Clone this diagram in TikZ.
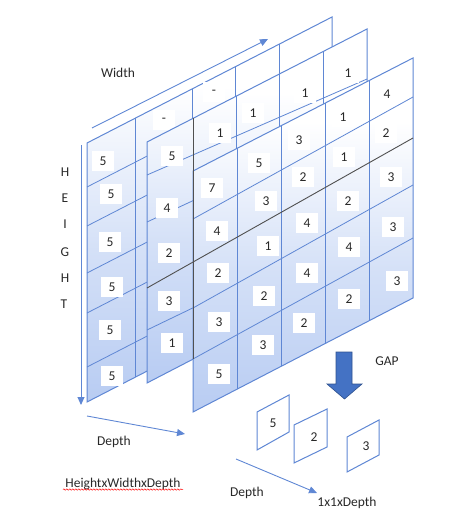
\documentclass[tikz,border=0pt]{standalone}
\usepackage{fontspec}
\setmainfont{Carlito}
\usetikzlibrary{arrows.meta,decorations.pathmorphing}
\definecolor{lineblue}{RGB}{95,135,212}
\definecolor{shblue}{RGB}{184,204,242}
\definecolor{gapblue}{RGB}{68,114,196}
\definecolor{gapedge}{RGB}{47,82,143}
\definecolor{darkline}{RGB}{80,80,80}
\definecolor{txt}{RGB}{40,40,40}
\pgfdeclareverticalshading{sheetshade}{100bp}{color(0bp)=(shblue); color(25bp)=(shblue); color(45bp)=(shblue!60!white); color(66bp)=(white); color(100bp)=(white)}
\begin{document}
\begin{tikzpicture}[x=1pt,y=-1pt,
  gridln/.style={draw=lineblue, line width=0.8pt},
  edgeln/.style={draw=lineblue, line width=1pt},
  numbox/.style={fill=white, inner sep=0pt, minimum width=22pt, minimum height=20pt, font=\fontsize{13.5}{16}\selectfont, text=txt},
  lbl/.style={font=\fontsize{13.5}{16}\selectfont, text=txt},
  axarrow/.style={draw=lineblue, line width=0.9pt, -{Triangle[length=8pt,width=7pt]}},
  darkl/.style={draw=darkline, line width=0.9pt},
  smallbox/.style={draw=lineblue, line width=1pt, fill=white}]
\useasboundingbox (0,0) rectangle (464,511);

% ---------- slice 1 (back) ----------
\shade[shading=sheetshade] (87,143) -- (332,17) -- (332,276) -- (87,402) -- cycle;
\draw[gridln] (87,187) -- (332,61);
\draw[gridln] (87,226) -- (332,100);
\draw[gridln] (87,273) -- (332,147);
\draw[gridln] (87,313) -- (332,187);
\draw[gridln] (87,367) -- (332,241);
\draw[gridln] (135,118.3) -- (135,377.3);
\draw[gridln] (192,89) -- (192,348);
\draw[gridln] (235,66.9) -- (235,325.9);
\draw[gridln] (279,44.3) -- (279,303.3);
\draw[edgeln] (87,143) -- (332,17) -- (332,276) -- (87,402) -- cycle;
\node[numbox] (a1) at (103,161) {5};
\node[numbox] (a2) at (111,194) {5};
\node[numbox] (a3) at (110,242) {5};
\node[numbox] (a4) at (112,287) {5};
\node[numbox] (a5) at (110,330) {5};
\node[numbox] (a6) at (112,376) {5};
\node[numbox] (a7) at (164,120) {-};
\node[numbox] (a8) at (214,92) {-};

% ---------- slice 2 (middle) ----------
\shade[shading=sheetshade] (147,142) -- (367,29) -- (367,269) -- (147,383) -- cycle;
\draw[gridln] (147,175) -- (367,79);
\draw[gridln] (147,222) -- (367,120);
\draw[gridln] (147,330) -- (367,224);
\draw[gridln] (236,96.3) -- (236,336.9);
\draw[gridln] (279,74.2) -- (279,314.6);
\draw[gridln] (323,51.6) -- (323,291.8);
\draw[edgeln] (147,142) -- (367,29) -- (367,269) -- (147,383) -- cycle;
\node[numbox] (b1) at (172,156) {5};
\node[numbox] (b2) at (220,133) {1};
\node[numbox] (b3) at (253,113) {1};
\node[numbox] (b4) at (305,93) {1};
\node[numbox] (b5) at (348,73) {1};
\node[numbox] (b6) at (167,208) {4};
\node[numbox] (b7) at (169,253) {2};
\node[numbox] (b8) at (169,301) {3};
\node[numbox] (b9) at (172,343) {1};

% ---------- slice 3 (front) ----------
\shade[shading=sheetshade] (193,171) -- (413,58) -- (413,298) -- (193,412) -- cycle;
\draw[gridln] (193,219) -- (413,97);
\draw[gridln] (193,308) -- (413,185);
\draw[gridln] (193,359) -- (413,238);
\draw[gridln] (237,148.4) -- (237,389.2);
\draw[gridln] (281,125.8) -- (281,366.4);
\draw[gridln] (325,103.2) -- (325,343.6);
\draw[gridln] (369,80.6) -- (369,320.8);
\draw[edgeln] (193,171) -- (413,58) -- (413,298) -- (193,412) -- cycle;
% row 1
\node[numbox] (c11) at (212,188) {7};
\node[numbox] (c12) at (259,163) {5};
\node[numbox] (c13) at (299,140) {3};
\node[numbox] (c14) at (343,117) {1};
\node[numbox] (c15) at (387,94) {4};
% row 2
\node[numbox] (c21) at (217,231) {4};
\node[numbox] (c22) at (266,201) {3};
\node[numbox] (c23) at (303,177) {2};
\node[numbox] (c24) at (344,157) {1};
\node[numbox] (c25) at (386,133) {2};
% row 3
\node[numbox] (c31) at (218,273) {2};
\node[numbox] (c32) at (268,246) {1};
\node[numbox] (c33) at (307,223) {4};
\node[numbox] (c34) at (348,201) {2};
\node[numbox] (c35) at (391,177) {3};
% row 4
\node[numbox] (c41) at (219,322) {3};
\node[numbox] (c42) at (264,296) {2};
\node[numbox] (c43) at (307,273) {4};
\node[numbox] (c44) at (349,247) {4};
\node[numbox] (c45) at (393,227) {3};
% row 5
\node[numbox] (c51) at (219,374) {5};
\node[numbox] (c52) at (263,345) {3};
\node[numbox] (c53) at (304,323) {2};
\node[numbox] (c54) at (349,299) {2};
\node[numbox] (c55) at (397,281) {3};

% dark highlighted lines
\draw[darkl] (147,288) -- (413,138);
\draw[darkl] (193,118.4) -- (193,359);

% ---------- axes ----------
\coordinate (wS) at (92,128);
\coordinate (wE) at (268,39);
\draw[axarrow] (wS) -- (wE);
\node[lbl] (wl) at (118,73) {Width};

\coordinate (hS) at (81,145);
\coordinate (hE) at (81,405);
\draw[axarrow] (hS) -- (hE);
\node[lbl] (h1) at (65,172) {H};
\node[lbl] (h2) at (65,198) {E};
\node[lbl] (h3) at (65,224) {I};
\node[lbl] (h4) at (65,252) {G};
\node[lbl] (h5) at (65,278) {H};
\node[lbl] (h6) at (64,304) {T};

\coordinate (dS) at (87,416);
\coordinate (dE) at (185,434);
\draw[axarrow] (dS) -- (dE);
\node[lbl] (dl) at (114,442) {Depth};

\node[lbl] (hwd) at (123,484) {HeightxWidthxDepth};
\draw[red, line width=0.5pt, decorate, decoration={snake, amplitude=0.7pt, segment length=3pt}] ([xshift=1pt,yshift=-2pt]hwd.base west) -- ([xshift=-1pt,yshift=-2pt]hwd.base east);

% ---------- GAP ----------
\draw[fill=gapblue, draw=gapedge, line width=0.6pt] (336,352) -- (352,352) -- (352,384) -- (362,384) -- (344.5,399) -- (327,384) -- (336,384) -- cycle;
\node[lbl] (gap) at (387,361) {GAP};

% ---------- 1x1xDepth ----------
\draw[smallbox] (257,412) -- (289,395) -- (289,432) -- (257,450) -- cycle;
\node[lbl] (p1) at (273,423) {5};
\draw[smallbox] (294,425) -- (327,409) -- (327,447) -- (294,463) -- cycle;
\node[lbl] (p2) at (314,437) {2};
\draw[smallbox] (347,437) -- (379,420) -- (379,455) -- (347,472) -- cycle;
\node[lbl] (p3) at (366,446) {3};

\coordinate (eS) at (236,459);
\coordinate (eE) at (317,493);
\draw[axarrow] (eS) -- (eE);
\node[lbl] (el) at (247,493) {Depth};
\node[lbl] (ol) at (347,503) {1x1xDepth};
\end{tikzpicture}
\end{document}
